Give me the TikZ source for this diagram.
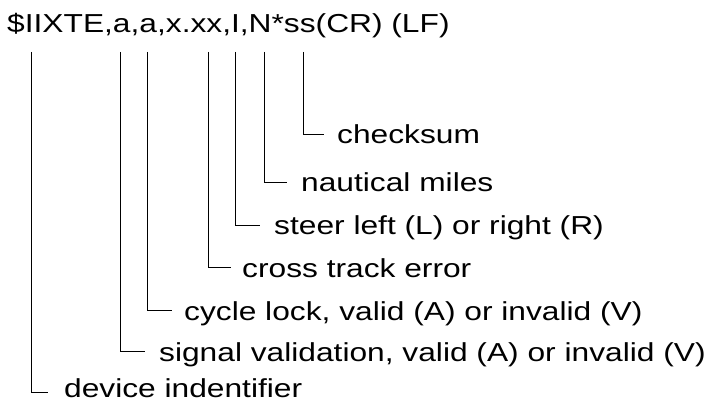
\documentclass[tikz,border=0pt]{standalone}
\usepackage{fontspec}
\setmainfont{Liberation Sans}[FakeStretch=1.22]
\begin{document}
\begin{tikzpicture}[x=1pt,y=-1pt,
  txt/.style={inner sep=0pt,anchor=base west,font=\fontsize{26}{31}\selectfont},
  lead/.style={draw=black,line width=0.85pt}]
\useasboundingbox (0,0) rectangle (714,403);
\node[txt] (title) at (7,33) {\$IIXTE,a,a,x.xx,I,N*ss(CR) (LF)};
% top ends of the leader lines
\coordinate (t1) at (31,52);
\coordinate (t2) at (120,52);
\coordinate (t3) at (147,52);
\coordinate (t4) at (208,52);
\coordinate (t5) at (235,52);
\coordinate (t6) at (264,52);
\coordinate (t7) at (303,52);
% labels
\node[txt] (l7) at (337,144) {checksum};
\node[txt] (l6) at (301,192) {nautical miles};
\node[txt] (l5) at (274,235) {steer left (L) or right (R)};
\node[txt] (l4) at (242,277) {cross track error};
\node[txt] (l3) at (184,320) {cycle lock, valid (A) or invalid (V)};
\node[txt] (l2) at (159,361) {signal validation, valid (A) or invalid (V)};
\node[txt] (l1) at (64,397.5) {device indentifier};
% leaders
\draw[lead] (t7) |- ([xshift=-13pt,yshift=10pt]l7.base west);
\draw[lead] (t6) |- ([xshift=-14pt,yshift=10pt]l6.base west);
\draw[lead] (t5) |- ([xshift=-14pt,yshift=10pt]l5.base west);
\draw[lead] (t4) |- ([xshift=-11pt,yshift=10pt]l4.base west);
\draw[lead] (t3) |- ([xshift=-12pt,yshift=10pt]l3.base west);
\draw[lead] (t2) |- ([xshift=-14pt,yshift=10pt]l2.base west);
\draw[lead] (t1) |- ([xshift=-16pt,yshift=5pt]l1.base west);
\end{tikzpicture}
\end{document}
